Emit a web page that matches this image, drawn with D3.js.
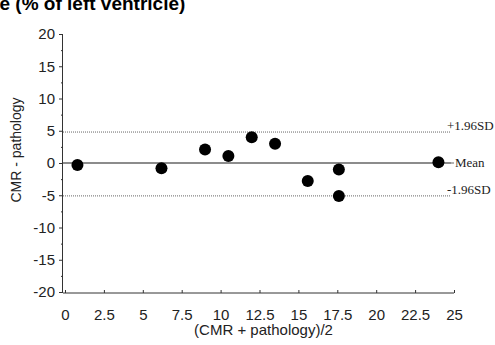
<!DOCTYPE html>
<html>
<head>
<meta charset="utf-8">
<script src="https://cdn.jsdelivr.net/npm/d3@7"></script>
<style>
  body { margin: 0; background: #fff; }
  svg { display: block; }
</style>
</head>
<body>
<div id="chart"></div>
<script>
/* Bland-Altman data.
** averages = (CMR + pathology)/2, differences = CMR - pathology
*/
var averages = [0.8, 6.2, 9.0, 10.5, 12.0, 13.5, 15.6, 17.6, 17.6, 24.0];
var differences = [-0.3, -0.8, 2.1, 1.1, 4.0, 3.0, -2.8, -1.0, -5.1, 0.1];

var xTicks = [0, 2.5, 5, 7.5, 10, 12.5, 15, 17.5, 20, 22.5, 25];
var yTicks = [-20, -15, -10, -5, 0, 5, 10, 15, 20];
var yMinorTicks = [-17.5, -12.5, -7.5, -2.5, 2.5, 7.5, 12.5, 17.5];

var limitNames = ['+1.96SD', 'Mean', '-1.96SD'];
var limitValues = [4.8, 0, -5.1];

var titleText = 'e (% of left ventricle)';
var xTitle = '(CMR + pathology)/2';
var yTitle = 'CMR - pathology';

// layout / styling
var config = {
    width: 495,
    height: 345,
    plot: { left: 65, right: 454, top: 34, bottom: 292 },
    colors: {
        text: '#222',
        axis: '#333',
        mean: '#666',
        limit: '#666',
        dot: '#000'
    },
    sans: "'Liberation Sans', Arial, sans-serif",
    serif: "'Liberation Serif', 'Times New Roman', serif",
    tickFont: 15,
    dotSize: 6
};

function draw(div) {
    var p = config.plot;
    var svg = d3.select(div).append('svg')
        .attr('width', config.width)
        .attr('height', config.height);

    var x = d3.scaleLinear().domain([0, 25]).range([p.left, p.right]);
    var y = d3.scaleLinear().domain([-20, 20]).range([p.bottom, p.top]);

    // title (its top is cropped in the source figure too)
    svg.append('text')
        .attr('x', -0.5)
        .attr('y', 10)
        .attr('font-family', config.sans)
        .attr('font-weight', 'bold')
        .attr('font-size', 19)
        .style('fill', '#000')
        .text(titleText);

    // x axis, small ticks pointing up into the plot
    var xAxis = svg.append('g')
        .attr('transform', 'translate(0,' + (p.bottom + 1) + ')')
        .call(d3.axisBottom(x).tickValues(xTicks).tickSize(-3).tickPadding(16)
            .tickFormat(function (d) { return d; }));
    xAxis.select('.domain').attr('d', 'M' + (p.left - 2) + ',0H' + p.right);

    // y axis, major ticks plus shorter minor ticks
    var yAxis = svg.append('g')
        .attr('transform', 'translate(' + (p.left - 2) + ',0)')
        .call(d3.axisLeft(y).tickValues(yTicks).tickSize(4).tickPadding(4)
            .tickFormat(function (d) { return d; }));
    yAxis.select('.domain').attr('d', 'M-0.5,' + p.top + 'V' + p.bottom);
    yAxis.selectAll('.minor')
        .data(yMinorTicks)
        .enter().append('line')
        .attr('class', 'minor')
        .attr('x1', -2).attr('x2', 0)
        .attr('y1', function (d) { return y(d) + 0.5; })
        .attr('y2', function (d) { return y(d) + 0.5; });

    [xAxis, yAxis].forEach(function (a) {
        a.selectAll('path, line').attr('stroke', config.colors.axis);
        a.selectAll('text')
            .attr('font-family', config.sans)
            .attr('font-size', config.tickFont)
            .style('fill', config.colors.text);
    });

    // axis titles
    svg.append('text')
        .attr('x', (p.left + p.right) / 2 + 4)
        .attr('y', 335)
        .attr('text-anchor', 'middle')
        .attr('font-family', config.sans)
        .attr('font-size', 15)
        .style('fill', config.colors.text)
        .text(xTitle);

    svg.append('text')
        .attr('transform', 'translate(21,150) rotate(-90)')
        .attr('text-anchor', 'middle')
        .attr('font-family', config.sans)
        .attr('font-size', 14)
        .style('fill', config.colors.text)
        .text(yTitle);

    // mean and limits of agreement
    var limits = limitNames.map(function (n, i) { return { name: n, value: limitValues[i] }; });
    var lineEnd = 451;

    svg.selectAll('.limit')
        .data(limits)
        .enter().append('line')
        .attr('class', 'limit')
        .attr('x1', p.left - 2)
        .attr('x2', lineEnd)
        .attr('y1', function (d) { return y(d.value); })
        .attr('y2', function (d) { return y(d.value); })
        .attr('stroke', function (d) { return d.name == 'Mean' ? config.colors.mean : config.colors.limit; })
        .attr('stroke-width', function (d) { return d.name == 'Mean' ? 1.5 : 1; })
        .attr('stroke-dasharray', function (d) { return d.name == 'Mean' ? null : '1,1'; });

    svg.selectAll('.limit-label')
        .data(limits)
        .enter().append('text')
        .attr('class', 'limit-label')
        .attr('x', function (d) { return d.name == 'Mean' ? lineEnd + 4 : lineEnd - 4; })
        .attr('y', function (d) { return d.name == 'Mean' ? y(d.value) + 4 : y(d.value) - 2; })
        .attr('font-family', config.serif)
        .attr('font-size', 13)
        .style('fill', config.colors.text)
        .text(function (d) { return d.name; });

    // little joining dash before "Mean"
    svg.append('line')
        .attr('x1', lineEnd).attr('x2', lineEnd + 3)
        .attr('y1', y(limitValues[1])).attr('y2', y(limitValues[1]))
        .attr('stroke', config.colors.mean);

    // the points
    svg.selectAll('.dot')
        .data(averages)
        .enter().append('circle')
        .attr('class', 'dot')
        .attr('cx', function (d) { return x(d); })
        .attr('cy', function (d, i) { return y(differences[i]); })
        .attr('r', config.dotSize)
        .style('fill', config.colors.dot);
}

draw('#chart');
</script>
</body>
</html>
